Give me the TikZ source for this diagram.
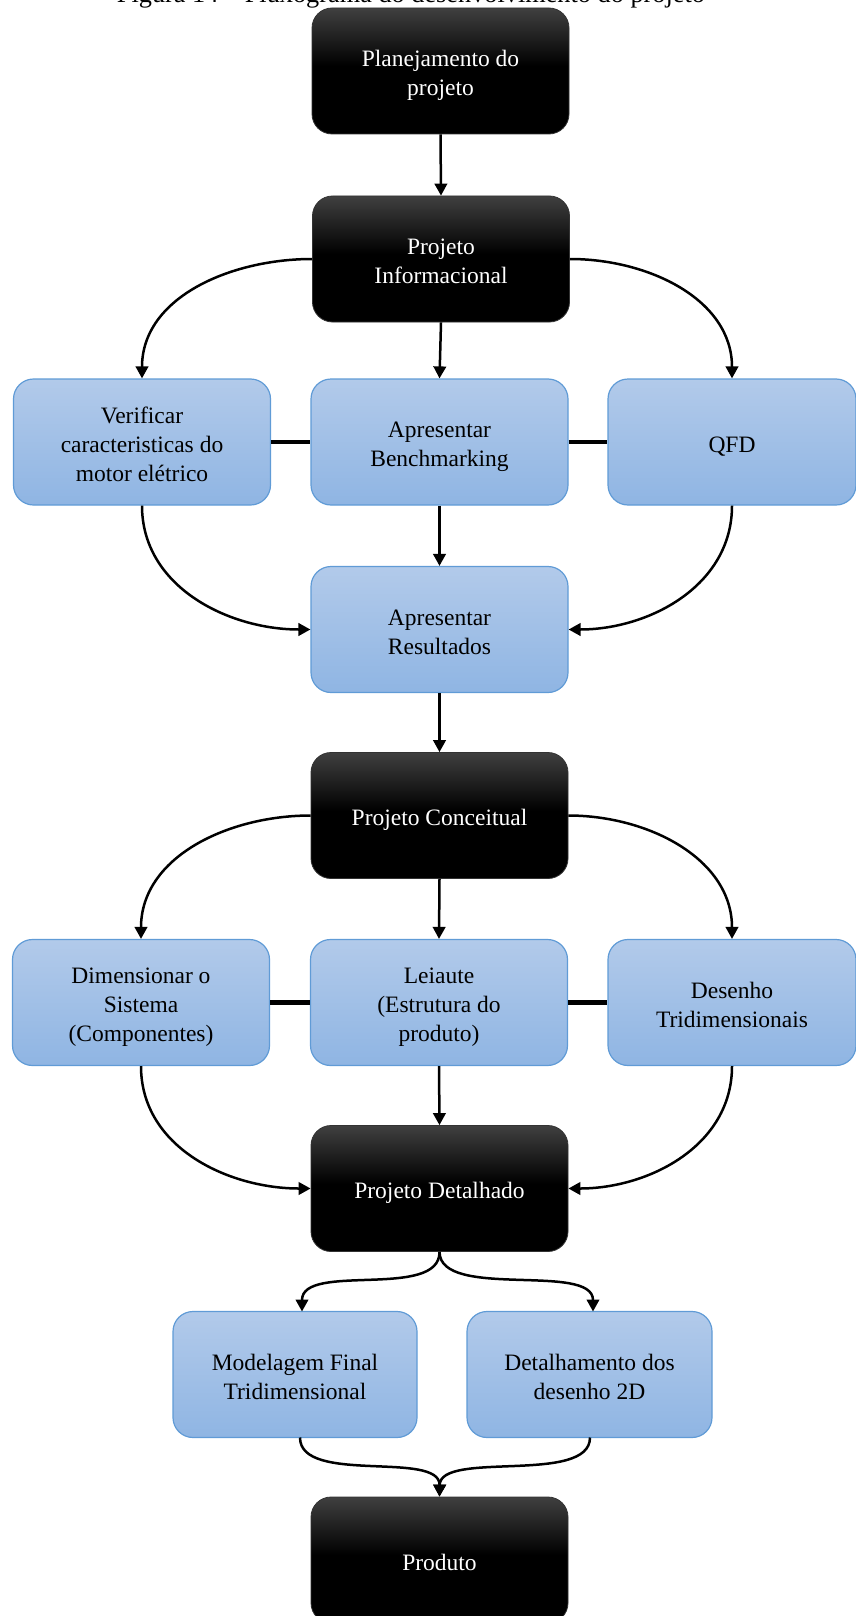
\documentclass[tikz,border=0pt]{standalone}
\usepackage{fontspec}
\setmainfont{Liberation Serif}
\usetikzlibrary{arrows.meta}
\pgfdeclareverticalshading{blackgrad}{100bp}{color(0bp)=(black); color(25bp)=(black); color(52bp)=(black); color(75bp)=(black!75); color(100bp)=(black!75)}
\definecolor{bluetop}{RGB}{178,202,234}
\definecolor{bluebot}{RGB}{143,181,227}
\definecolor{blueedge}{RGB}{96,155,214}
\newcommand\bxt[1]{\raisebox{-4.5pt}[\height][\depth]{\begin{tabular}{@{}c@{}}#1\end{tabular}}}
\begin{document}
\begin{tikzpicture}[x=1pt,y=-1pt,
  txt/.style={font=\fontsize{23.5}{29}\selectfont, align=center},
  darkbox/.style={txt, rectangle, rounded corners=20pt, draw=black!80, line width=0.8pt, shading=blackgrad, text=white, minimum width=257pt, minimum height=126pt, inner sep=0pt},
  bluebox/.style={txt, rectangle, rounded corners=20pt, draw=blueedge, line width=1.2pt, top color=bluetop, bottom color=bluebot, text=black, minimum width=257pt, minimum height=126pt, inner sep=0pt},
  arr/.style={line width=2.5pt, -{Triangle[length=12pt,width=12.5pt]}},
  link/.style={line width=4.5pt}
]
\useasboundingbox (0,0) rectangle (856,1616);
\clip (0,0) rectangle (856,1616);

\node[anchor=base, font=\fontsize{26.3}{30}\selectfont] (cap) at (411,2.5) {Figura 14 -- Fluxograma do desenvolvimento do projeto};

\node[darkbox] (plan) at (440.5,71) {\bxt{Planejamento do\\projeto}};
\node[darkbox] (info) at (441,259) {\bxt{Projeto\\Informacional}};
\node[bluebox] (verif) at (142,442) {\bxt{Verificar\\caracteristicas do\\motor elétrico}};
\node[bluebox] (bench) at (439.5,442) {\bxt{Apresentar\\Benchmarking}};
\node[bluebox, minimum width=248pt] (qfd) at (732,442) {\bxt{QFD}};
\node[bluebox] (result) at (439.5,629.5) {\bxt{Apresentar\\Resultados}};
\node[darkbox] (conc) at (439.5,815.5) {\bxt{Projeto Conceitual}};
\node[bluebox] (dim) at (141,1002.5) {\bxt{Dimensionar o\\Sistema\\(Componentes)}};
\node[bluebox] (leia) at (439,1002.5) {\bxt{Leiaute\\(Estrutura do\\produto)}};
\node[bluebox, minimum width=248pt] (des) at (732,1002.5) {\bxt{Desenho\\Tridimensionais}};
\node[darkbox] (det) at (439.5,1188.5) {\bxt{Projeto Detalhado}};
\node[bluebox, minimum width=244pt] (mod) at (295,1374.5) {\bxt{Modelagem Final\\Tridimensional}};
\node[bluebox, minimum width=245pt] (detd) at (589.5,1374.5) {\bxt{Detalhamento dos\\desenho 2D}};
\node[darkbox] (prod) at (439.5,1560) {\bxt{Produto}};

% top chain
\draw[arr] (plan.south) -- (info.north);
\draw[arr] (info.west) to[out=180,in=90] (verif.north);
\draw[arr] (info.south) -- (bench.north);
\draw[arr] (info.east) to[out=0,in=90] (qfd.north);
\draw[link] (verif.east) -- (bench.west);
\draw[link] (bench.east) -- (qfd.west);
\draw[arr] (verif.south) to[out=-90,in=180] (result.west);
\draw[arr] (bench.south) -- (result.north);
\draw[arr] (qfd.south) to[out=-90,in=0] (result.east);
\draw[arr] (result.south) -- (conc.north);

% conceptual
\draw[arr] (conc.west) to[out=180,in=90] (dim.north);
\draw[arr] (conc.south) -- (leia.north);
\draw[arr] (conc.east) to[out=0,in=90] (des.north);
\draw[link] (dim.east) -- (leia.west);
\draw[link] (leia.east) -- (des.west);
\draw[arr] (dim.south) to[out=-90,in=180] (det.west);
\draw[arr] (leia.south) -- (det.north);
\draw[arr] (des.south) to[out=-90,in=0] (det.east);

% detailed
\coordinate (mtop) at (302,1311.5);
\coordinate (dtop) at (593,1311.5);
\draw[arr] (det.south) .. controls (440,1300) and (302,1262) .. (mtop);
\draw[arr] (det.south) .. controls (440,1300) and (593,1262) .. (dtop);
\coordinate (mbot) at (300,1437.5);
\coordinate (dbot) at (590,1437.5);
\draw[arr] (mbot) .. controls (300,1485) and (440,1450) .. (prod.north);
\draw[arr] (dbot) .. controls (590,1485) and (440,1450) .. (prod.north);
\end{tikzpicture}
\end{document}
